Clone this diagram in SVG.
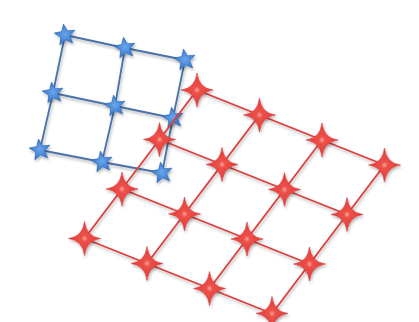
<svg xmlns="http://www.w3.org/2000/svg" xmlns:xlink="http://www.w3.org/1999/xlink" width="419" height="322" viewBox="0 0 419 322">
<defs>
<filter id="sh" x="-50%" y="-50%" width="200%" height="200%">
<feDropShadow dx="1" dy="2" stdDeviation="1.5" flood-color="#000" flood-opacity="0.3"/>
</filter>
<radialGradient id="rg" cx="50%" cy="50%" r="50%">
<stop offset="0" stop-color="#f7a09a"/>
<stop offset="0.2" stop-color="#ec5048"/>
<stop offset="1" stop-color="#e23a36"/>
</radialGradient>
<radialGradient id="bg" cx="50%" cy="50%" r="50%">
<stop offset="0" stop-color="#6aa6ea"/>
<stop offset="1" stop-color="#3479d0"/>
</radialGradient>
<path id="bstar" d="M0,-11 L2.82,-3.88 L10.46,-3.4 L4.56,1.48 L6.47,8.9 L0,4.8 L-6.47,8.9 L-4.56,1.48 L-10.46,-3.4 L-2.82,-3.88 Z" transform="rotate(-8)"/>
<path id="rstar" d="M0,-17 Q1.8,-1.8 16,0 Q1.8,1.8 0,17 Q-1.8,1.8 -16,0 Q-1.8,-1.8 0,-17 Z"/>
</defs>
<style>
.bl{stroke:#4a72a8;stroke-width:1.8;fill:none}
.rl{stroke:#dc3f3d;stroke-width:1.8;fill:none}
.bs{fill:url(#bg);stroke:#3066b0;stroke-width:0.6;filter:url(#sh)}
.rs{fill:url(#rg);stroke:#d8383a;stroke-width:0.6;filter:url(#sh)}
</style>
<rect width="419" height="322" fill="#ffffff"/>
<g id="blue-connectors" filter="url(#sh)">
<path class="bl" d="M65,35 L125,48 L185,60 M53,93 L115,106 L173,118 M40,150 L102,162 L162,173 M65,35 L53,93 L40,150 M125,48 L115,106 L102,162 M185,60 L173,118 L162,173"/>
</g>
<g id="b00"><use xlink:href="#bstar" class="bs" x="65" y="35"/></g>
<g id="b01"><use xlink:href="#bstar" class="bs" x="125" y="48"/></g>
<g id="b02"><use xlink:href="#bstar" class="bs" x="185" y="60"/></g>
<g id="b10"><use xlink:href="#bstar" class="bs" x="53" y="93"/></g>
<g id="b11"><use xlink:href="#bstar" class="bs" x="115" y="106"/></g>
<g id="b12"><use xlink:href="#bstar" class="bs" x="173" y="118"/></g>
<g id="b20"><use xlink:href="#bstar" class="bs" x="40" y="150"/></g>
<g id="b21"><use xlink:href="#bstar" class="bs" x="102" y="162"/></g>
<g id="b22"><use xlink:href="#bstar" class="bs" x="162" y="173"/></g>
<g id="red-connectors" filter="url(#sh)">
<path class="rl" d="M197,90 L384.5,165 M159.5,139.5 L347,214.5 M122,189 L309.5,264 M84.5,238.5 L272,313.5 M197,90 L84.5,238.5 M259.5,115 L147,263.5 M322,140 L209.5,288.5 M384.5,165 L272,313.5"/>
</g>
<g id="r00"><use xlink:href="#rstar" class="rs" x="197" y="90"/></g>
<g id="r01"><use xlink:href="#rstar" class="rs" x="259.5" y="115"/></g>
<g id="r02"><use xlink:href="#rstar" class="rs" x="322" y="140"/></g>
<g id="r03"><use xlink:href="#rstar" class="rs" x="384.5" y="165"/></g>
<g id="r10"><use xlink:href="#rstar" class="rs" x="159.5" y="139.5"/></g>
<g id="r11"><use xlink:href="#rstar" class="rs" x="222" y="164.5"/></g>
<g id="r12"><use xlink:href="#rstar" class="rs" x="284.5" y="189.5"/></g>
<g id="r13"><use xlink:href="#rstar" class="rs" x="347" y="214.5"/></g>
<g id="r20"><use xlink:href="#rstar" class="rs" x="122" y="189"/></g>
<g id="r21"><use xlink:href="#rstar" class="rs" x="184.5" y="214"/></g>
<g id="r22"><use xlink:href="#rstar" class="rs" x="247" y="239"/></g>
<g id="r23"><use xlink:href="#rstar" class="rs" x="309.5" y="264"/></g>
<g id="r30"><use xlink:href="#rstar" class="rs" x="84.5" y="238.5"/></g>
<g id="r31"><use xlink:href="#rstar" class="rs" x="147" y="263.5"/></g>
<g id="r32"><use xlink:href="#rstar" class="rs" x="209.5" y="288.5"/></g>
<g id="r33"><use xlink:href="#rstar" class="rs" x="272" y="313.5"/></g>
</svg>
